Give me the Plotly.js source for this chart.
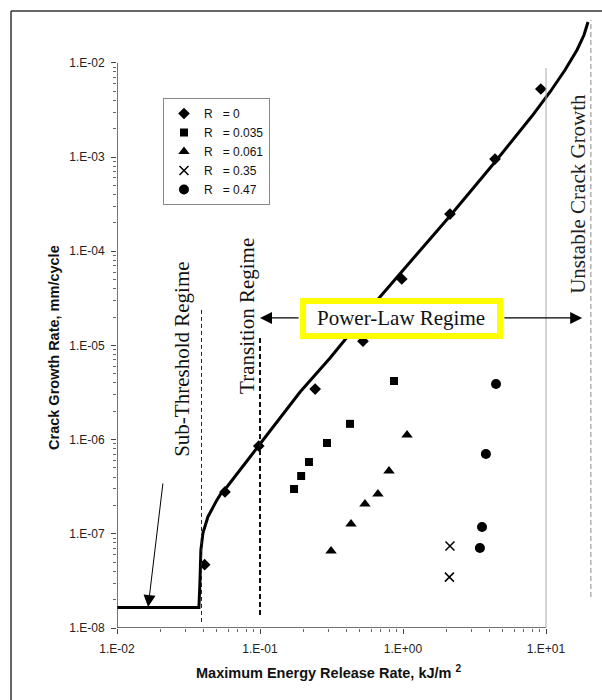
<!DOCTYPE html>
<html>
<head>
<meta charset="utf-8">
<script src="https://cdn.plot.ly/plotly-3.0.1.min.js"></script>
<style>html,body{margin:0;padding:0;background:#fff;}#chart{width:602px;height:700px;}</style>
</head>
<body>
<div id="chart"></div>
<script>
// ---- data ----
const fitX = [0.01, 0.0374, 0.0380, 0.0386, 0.0399, 0.0432, 0.050, 0.0542, 0.0587, 0.098, 0.1906, 0.309, 0.690, 2.13, 4.40, 7.98, 10.67, 13.58, 16.48, 18.44, 19.67];
const fitY = [1.65e-8, 1.65e-8, 3.0e-8, 6.73e-8, 1.02e-7, 1.51e-7, 2.29e-7, 2.78e-7, 3.14e-7, 8.55e-7, 3.2e-6, 7.34e-6, 3.27e-5, 2.37e-4, 8.85e-4, 2.72e-3, 4.90e-3, 8.39e-3, 1.37e-2, 1.97e-2, 2.71e-2];

const r0X = [0.041, 0.0569, 0.098, 0.243, 0.525, 0.98, 2.13, 4.4, 9.2];
const r0Y = [4.7e-8, 2.78e-7, 8.55e-7, 3.44e-6, 1.11e-5, 5.07e-5, 2.48e-4, 9.5e-4, 5.27e-3];

const r035X = [0.173, 0.194, 0.220, 0.294, 0.426, 0.865];
const r035Y = [2.99e-7, 4.11e-7, 5.78e-7, 9.2e-7, 1.47e-6, 4.19e-6];

const r061X = [0.314, 0.433, 0.542, 0.668, 0.798, 1.067];
const r061Y = [6.56e-8, 1.27e-7, 2.07e-7, 2.64e-7, 4.64e-7, 1.12e-6];

const r35X = [2.13, 2.11];
const r35Y = [7.41e-8, 3.47e-8];

const r47X = [4.47, 3.80, 3.57, 3.45];
const r47Y = [3.89e-6, 7.03e-7, 1.18e-7, 7.06e-8];

const seriesNames = ['R\u00a0\u00a0\u00a0= 0', 'R\u00a0\u00a0\u00a0= 0.035', 'R\u00a0\u00a0\u00a0= 0.061', 'R\u00a0\u00a0\u00a0= 0.35', 'R\u00a0\u00a0\u00a0= 0.47'];
const majorVals = [1e-2, 1e-1, 1, 10];
const majorText = ['1.E-02', '1.E-01', '1.E+00', '1.E+01'];
const yMajorVals = [1e-8, 1e-7, 1e-6, 1e-5, 1e-4, 1e-3, 1e-2];
const yMajorText = ['1.E-08', '1.E-07', '1.E-06', '1.E-05', '1.E-04', '1.E-03', '1.E-02'];

// regime boundaries
const subThresholdX = 0.039;
const transitionX = 0.1;
const plotEdgeX = 10;
const unstableX = 20.6;

// ---- build ----
function minorTicks(lo, hi) {
  const v = [];
  for (let e = lo; e < hi; e++) for (let m = 2; m <= 9; m++) v.push(m * Math.pow(10, e));
  return v;
}
const L = Math.log10;
const blk = '#000';

const traces = [
  {x: fitX, y: fitY, mode: 'lines', line: {color: blk, width: 3}, showlegend: false, hoverinfo: 'skip'},
  {x: r0X, y: r0Y, mode: 'markers', name: seriesNames[0], marker: {symbol: 'diamond', size: 9, color: blk}},
  {x: r035X, y: r035Y, mode: 'markers', name: seriesNames[1], marker: {symbol: 'square', size: 8, color: blk}},
  {x: r061X, y: r061Y, mode: 'markers', name: seriesNames[2], marker: {symbol: 'triangle-up', size: 10, color: blk}},
  {x: r35X, y: r35Y, mode: 'markers', name: seriesNames[3], marker: {symbol: 'x-thin', size: 9, color: blk, line: {color: blk, width: 1.5}}},
  {x: r47X, y: r47Y, mode: 'markers', name: seriesNames[4], marker: {symbol: 'circle', size: 10, color: blk}}
];

const serif = 'Liberation Serif, Times New Roman, serif';
const sans = 'Liberation Sans, Arial, sans-serif';

const shapes = [
  // outer frame (left, top)
  {type: 'line', xref: 'paper', yref: 'paper', x0: -0.2208, x1: -0.2208, y0: 1.0065, y1: -0.2, line: {color: '#333', width: 1.5}},
  {type: 'line', xref: 'paper', yref: 'paper', x0: -0.2208, x1: 1.02, y0: 1.0065, y1: 1.0065, line: {color: '#333', width: 1.5}},
  // axis lines
  {type: 'line', xref: 'x', yref: 'y', x0: 0.01, x1: 10, y0: 1e-8, y1: 1e-8, line: {color: '#444', width: 1.5}},
  {type: 'line', xref: 'x', yref: 'y', x0: 0.01, x1: 0.01, y0: 1e-8, y1: 1e-2, line: {color: '#444', width: 1.5}},
  // right plot edge (gray)
  {type: 'line', xref: 'x', yref: 'y', x0: plotEdgeX, x1: plotEdgeX, y0: 1e-8, y1: 8.8e-3, line: {color: '#aaa', width: 1}},
  // regime dashed lines
  {type: 'line', xref: 'x', yref: 'y', x0: subThresholdX, x1: subThresholdX, y0: 1.16e-8, y1: 2.38e-5, line: {color: '#222', width: 1, dash: '4px,3px'}},
  {type: 'line', xref: 'x', yref: 'y', x0: transitionX, x1: transitionX, y0: 1.37e-8, y1: 1.29e-5, line: {color: '#111', width: 2, dash: '5px,3px'}},
  {type: 'line', xref: 'x', yref: 'y', x0: unstableX, x1: unstableX, y0: 2.13e-8, y1: 2.84e-2, line: {color: '#888', width: 1, dash: '5px,3px'}},
  // Power-law box
  {type: 'rect', xref: 'x', yref: 'y', x0: 0.2, x1: 4.77, y0: 1.26e-5, y1: 2.96e-5, line: {color: '#ffff00', width: 6}, fillcolor: '#fff'}
];

const annotations = [
  {xref: 'x', yref: 'y', x: L(0.0284), y: L(7.17e-6), text: 'Sub-Threshold Regime', textangle: -90, showarrow: false, font: {family: serif, size: 21, color: '#111'}},
  {xref: 'x', yref: 'y', x: L(0.081), y: L(2.05e-5), text: 'Transition Regime', textangle: -90, showarrow: false, font: {family: serif, size: 21, color: '#111'}},
  {xref: 'x', yref: 'y', x: L(16.7), y: L(4.05e-4), text: 'Unstable Crack Growth', textangle: -90, showarrow: false, font: {family: serif, size: 21, color: '#222'}},
  {xref: 'x', yref: 'y', x: L(0.968), y: L(1.955e-5), text: 'Power-Law Regime', showarrow: false, font: {family: serif, size: 21, color: '#111'}},
  // arrows
  {xref: 'x', yref: 'y', axref: 'x', ayref: 'y', x: L(0.1), y: L(1.955e-5), ax: L(0.1906), ay: L(1.955e-5), text: '', showarrow: true, arrowhead: 2, arrowsize: 2, arrowwidth: 1.2, arrowcolor: blk, standoff: 0},
  {xref: 'x', yref: 'y', axref: 'x', ayref: 'y', x: L(17.9), y: L(1.955e-5), ax: L(5.0), ay: L(1.955e-5), text: '', showarrow: true, arrowhead: 2, arrowsize: 2, arrowwidth: 1.2, arrowcolor: blk, standoff: 0},
  {xref: 'x', yref: 'y', axref: 'x', ayref: 'y', x: L(0.0165), y: L(1.67e-8), ax: L(0.021), ay: L(3.55e-7), text: '', showarrow: true, arrowhead: 2, arrowsize: 2.4, arrowwidth: 1, arrowcolor: blk, standoff: 0},
  // axis titles
  {xref: 'paper', yref: 'paper', x: 0.4417, y: -0.0718, xanchor: 'center', yanchor: 'middle', text: 'Maximum Energy Release Rate, kJ/m <sup>2</sup>', showarrow: false, font: {family: sans, size: 14.5, color: '#111', weight: 'bold'}},
  {xref: 'paper', yref: 'paper', x: -0.1313, y: 0.4584, xanchor: 'center', yanchor: 'middle', text: 'Crack Growth Rate, mm/cycle', textangle: -90, showarrow: false, font: {family: sans, size: 14.5, color: '#111', weight: 'bold'}}
];

const layout = {
  width: 602, height: 700,
  margin: {l: 117, r: 5, t: 15, b: 72},
  paper_bgcolor: '#fff', plot_bgcolor: '#fff',
  showlegend: true,
  legend: {x: 0.0958, y: 0.8646, xanchor: 'left', yanchor: 'top', bgcolor: '#fff', bordercolor: '#888', borderwidth: 1,
           font: {family: sans, size: 12, color: '#111'}, itemwidth: 30, tracegroupgap: 0},
  xaxis: {type: 'log', range: [-2, -2 + 480 / 143], showgrid: false, zeroline: false, showline: false,
          tickmode: 'array', tickvals: majorVals, ticktext: majorText, ticks: 'outside', ticklen: 5, tickwidth: 1, tickcolor: '#444',
          ticklabelstandoff: 5, tickfont: {family: sans, size: 12, color: '#222'},
          minor: {tickmode: 'array', tickvals: minorTicks(-2, 1), ticks: 'outside', ticklen: 3, tickwidth: 1, tickcolor: '#666', showgrid: false}},
  yaxis: {type: 'log', range: [-8, -8 + 613 / 94.2], showgrid: false, zeroline: false, showline: false,
          tickmode: 'array', tickvals: yMajorVals, ticktext: yMajorText, ticks: 'outside', ticklen: 5, tickwidth: 1, tickcolor: '#444',
          ticklabelstandoff: 4, tickfont: {family: sans, size: 12, color: '#222'},
          minor: {tickmode: 'array', tickvals: minorTicks(-8, -2), ticks: 'outside', ticklen: 3, tickwidth: 1, tickcolor: '#666', showgrid: false}},
  shapes: shapes,
  annotations: annotations
};

Plotly.newPlot('chart', traces, layout, {displayModeBar: false, staticPlot: true});
</script>
</body>
</html>
